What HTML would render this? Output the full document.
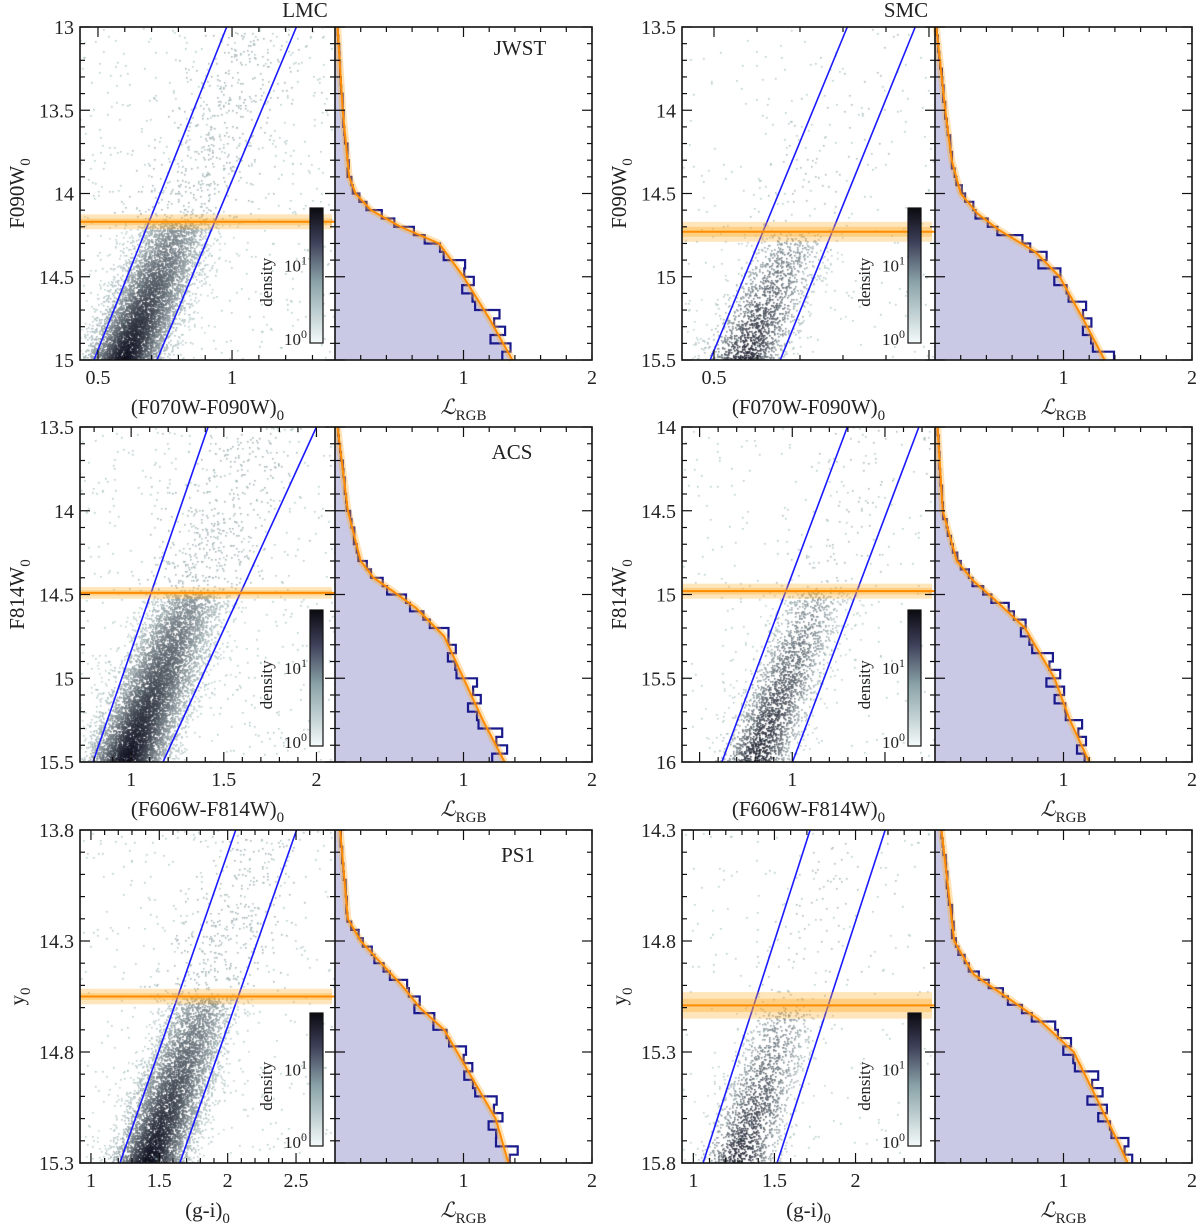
<!DOCTYPE html>
<html><head><meta charset="utf-8">
<style>
html,body{margin:0;padding:0;background:#fff;}
#wrap{position:relative;width:1200px;height:1226px;overflow:hidden;}
canvas,svg{position:absolute;left:0;top:0;}
text{font-family:"Liberation Serif",serif;fill:#222;}
</style></head>
<body>
<div id="wrap">
<canvas id="cv" width="1200" height="1226"></canvas>
<svg id="sv" width="1200" height="1226" xmlns="http://www.w3.org/2000/svg"></svg>
</div>
<script>
// ---- data (top level) ----
const panelIds = ['lmc-jwst','smc-jwst','lmc-acs','smc-acs','lmc-ps1','smc-ps1'];
const trgbMags = [14.17, 14.73, 14.49, 14.98, 14.55, 15.09];
const trgbErrOuter = [0.045, 0.06, 0.035, 0.045, 0.035, 0.06];
const trgbErrInner = [0.02, 0.03, 0.015, 0.02, 0.015, 0.03];
// selection box lines: colour at bright (top) and faint (bottom) mag limits
const boxLeftTop = [0.98, 0.81, 1.415, 1.297, 2.059, 1.72];
const boxLeftBot = [0.485, 0.491, 0.794, 0.62, 1.212, 1.06];
const boxRightTop = [1.24, 0.968, 2.0, 1.683, 2.504, 2.183];
const boxRightBot = [0.72, 0.654, 1.172, 1.001, 1.65, 1.516];
// luminosity function (mag, L_RGB)
const lfMag0 = [13.0,13.5,13.9,14.0,14.1,14.2,14.3,14.5,14.75,15.0];
const lfVal0 = [0.02,0.06,0.11,0.16,0.28,0.51,0.81,1.0,1.2,1.38];
const lfMag1 = [13.5,14.0,14.3,14.5,14.62,14.72,14.85,15.0,15.25,15.5];
const lfVal1 = [0.01,0.08,0.13,0.2,0.33,0.5,0.78,0.97,1.15,1.32];
const lfMag2 = [13.5,14.0,14.3,14.4,14.48,14.58,14.75,15.0,15.25,15.5];
const lfVal2 = [0.02,0.1,0.2,0.3,0.45,0.63,0.85,1.0,1.15,1.32];
const lfMag3 = [14.0,14.5,14.8,14.92,15.02,15.2,15.5,15.75,16.0];
const lfVal3 = [0.02,0.06,0.17,0.3,0.45,0.7,0.93,1.05,1.2];
const lfMag4 = [13.8,14.2,14.3,14.4,14.5,14.6,14.7,14.9,15.1,15.3];
const lfVal4 = [0.04,0.1,0.2,0.36,0.52,0.66,0.85,1.05,1.25,1.35];
const lfMag5 = [14.3,14.8,14.95,15.05,15.15,15.3,15.5,15.7,15.8];
const lfVal5 = [0.05,0.15,0.3,0.55,0.8,1.08,1.25,1.42,1.5];
const lfMags = [lfMag0,lfMag1,lfMag2,lfMag3,lfMag4,lfMag5];
const lfVals = [lfVal0,lfVal1,lfVal2,lfVal3,lfVal4,lfVal5];
// histogram scatter around the model (per-bin offsets)
const histJitter = [0,0.02,-0.02,0.03,-0.03,0.02,0.04,-0.02,0.05,-0.04,0.06,-0.05,0.07,-0.06,0.08,-0.05,0.09,-0.07,0.1,-0.08];
const colTicks0 = ['0.5','1'];
const colTicks1 = ['0.5'];
const colTicks2 = ['1','1.5','2'];
const colTicks3 = ['1'];
const colTicks4 = ['1','1.5','2','2.5'];
const colTicks5 = ['1','1.5','2'];
const colTickLabels = [colTicks0,colTicks1,colTicks2,colTicks3,colTicks4,colTicks5];
const magTicks0 = ['13','13.5','14','14.5','15'];
const magTicks1 = ['13.5','14','14.5','15','15.5'];
const magTicks2 = ['13.5','14','14.5','15','15.5'];
const magTicks3 = ['14','14.5','15','15.5','16'];
const magTicks4 = ['13.8','14.3','14.8','15.3'];
const magTicks5 = ['14.3','14.8','15.3','15.8'];
const magTickLabels = [magTicks0,magTicks1,magTicks2,magTicks3,magTicks4,magTicks5];
const lfTicks = ['1','2'];

// ---- layout ----
const L = [
 {x0:80,xm:335,x1:592,y0:27,y1:360,c:[0.433,1.384],m:[13,15],cmin:0.1,mmin:0.1,yl:'F090W',xl:'(F070W-F090W)',cb:[310,208,343],N:22000,sig:0.075,up:0.05,nf:500},
 {x0:682,xm:935,x1:1192,y0:27,y1:360,c:[0.4256,1.014],m:[13.5,15.5],cmin:0.1,mmin:0.1,yl:'F090W',xl:'(F070W-F090W)',cb:[908,208,343],N:6000,sig:0.05,up:0.03,nf:250},
 {x0:80,xm:335,x1:592,y0:427,y1:762,c:[0.724,2.1],m:[13.5,15.5],cmin:0.1,mmin:0.1,yl:'F814W',xl:'(F606W-F814W)',cb:[310,610,746],N:22000,sig:0.11,up:0.05,nf:500},
 {x0:682,xm:935,x1:1192,y0:427,y1:762,c:[0.405,1.77],m:[14,16],cmin:0.1,mmin:0.1,yl:'F814W',xl:'(F606W-F814W)',cb:[908,610,746],N:7000,sig:0.1,up:0.035,nf:250},
 {x0:80,xm:335,x1:592,y0:830,y1:1163,c:[0.92,2.785],m:[13.8,15.3],cmin:0.1,mmin:0.1,yl:'y',xl:'(g-i)',cb:[310,1013,1146],N:18000,sig:0.14,up:0.05,nf:400},
 {x0:682,xm:935,x1:1192,y0:830,y1:1163,c:[0.93,2.49],m:[14.3,15.8],cmin:0.1,mmin:0.1,yl:'y',xl:'(g-i)',cb:[908,1013,1146],N:5000,sig:0.12,up:0.04,nf:200}
];
const NS='http://www.w3.org/2000/svg';
const sv=document.getElementById('sv');
const ctx=document.getElementById('cv').getContext('2d');
function mk(tag,attrs,parent){const e=document.createElementNS(NS,tag);for(const k in attrs)e.setAttribute(k,attrs[k]);(parent||sv).appendChild(e);return e;}
function rng(seed){return function(){seed|=0;seed=seed+0x6D2B79F5|0;let t=Math.imul(seed^seed>>>15,1|seed);t=t+Math.imul(t^t>>>7,61|t)^t;return((t^t>>>14)>>>0)/4294967296;};}
function interp(xs,ys,x){if(x<=xs[0])return ys[0];for(let i=1;i<xs.length;i++){if(x<=xs[i]){const f=(x-xs[i-1])/(xs[i]-xs[i-1]);return ys[i-1]+f*(ys[i]-ys[i-1]);}}return ys[ys.length-1];}

const defs=mk('defs',{});
const g=mk('linearGradient',{id:'cbg',x1:0,y1:1,x2:0,y2:0},defs);
mk('stop',{offset:'0','stop-color':'#f4fafa'},g);
mk('stop',{offset:'0.45','stop-color':'#8aa3a8'},g);
mk('stop',{offset:'0.75','stop-color':'#3d3f58'},g);
mk('stop',{offset:'1','stop-color':'#0a0a10'},g);

L.forEach((p,i)=>{
  const sx=c=>p.x0+(c-p.c[0])/(p.c[1]-p.c[0])*(p.xm-p.x0);
  const sy=m=>p.y0+(m-p.m[0])/(p.m[1]-p.m[0])*(p.y1-p.y0);
  const lx=v=>p.xm+v/2*(p.x1-p.xm);
  const grp=mk('g',{});
  
  
  const trgb=trgbMags[i];
  const lineC=(top,bot,m)=>top+(bot-top)*(m-p.m[0])/(p.m[1]-p.m[0]);
  const r=rng(1234+i*77);
  ctx.save();ctx.beginPath();ctx.rect(p.x0,p.y0,p.xm-p.x0,p.y1-p.y0);ctx.clip();
  const gauss=()=>{let u=r()||1e-9,v=r();return Math.sqrt(-2*Math.log(u))*Math.cos(2*Math.PI*v);};
  for(let k=0;k<p.N;k++){
    const m=p.m[0]+r()*(p.m[1]-p.m[0]);
    const w=m>trgb?0.3+0.7*(m-trgb)/(p.m[1]-trgb):p.up*(1-0.6*(trgb-m)/(trgb-p.m[0]));
    if(r()>w)continue;
    const lc=lineC(boxLeftTop[i],boxLeftBot[i],m), rc=lineC(boxRightTop[i],boxRightBot[i],m);
    const cen=lc+0.45*(rc-lc);
    const off=gauss()*p.sig*(m>trgb?1:1.4);
    let t=w*Math.exp(-off*off/(2*p.sig*p.sig));
    if(m<trgb)t=0.15;
    t=Math.max(0,Math.min(1,t*(p.N>10000?1.0:0.9)));
    const R=Math.round(195-180*t),G=Math.round(212-196*t),B=Math.round(212-180*t);
    ctx.fillStyle='rgb('+R+','+G+','+B+')';
    ctx.fillRect(Math.round(sx(cen+off)),Math.round(sy(m)),1.6,1.6);
  }
  for(let k=0;k<p.nf;k++){
    const m=p.m[0]+r()*(p.m[1]-p.m[0]);const c=p.c[0]+r()*(p.c[1]-p.c[0]);
    ctx.fillStyle='rgba(150,180,180,0.7)';ctx.fillRect(Math.round(sx(c)),Math.round(sy(m)),1.6,1.6);
  }
  ctx.restore();
  const ms=lfMags[i],vs=lfVals[i];
  let d='M'+p.xm+','+p.y0;
  const pts=[];
  for(let y=p.y0;y<=p.y1;y+=1){const m=p.m[0]+(y-p.y0)/(p.y1-p.y0)*(p.m[1]-p.m[0]);pts.push([lx(interp(ms,vs,m)),y]);}
  pts.forEach(q=>d+=' L'+q[0].toFixed(1)+','+q[1]);
  d+=' L'+p.xm+','+p.y1+' Z';
  const fill=mk('path',{d:d,fill:'#c9c9e5',stroke:'none'},grp);
  
  
  const nb=40;let hd='';
  for(let b=0;b<nb;b++){
    const m0=p.m[0]+b/nb*(p.m[1]-p.m[0]),m1=p.m[0]+(b+1)/nb*(p.m[1]-p.m[0]);
    const base=interp(ms,vs,(m0+m1)/2);
    const v=Math.max(0,base+histJitter[(b*7+i*3)%histJitter.length]*Math.min(1,base));
    const X=lx(v).toFixed(1);
    hd+=(b===0?'M'+X+','+sy(m0):' L'+X+','+sy(m0).toFixed(1))+' L'+X+','+sy(m1).toFixed(1);
  }
  const hist=mk('path',{d:hd,fill:'none',stroke:'#1a1a8c','stroke-width':2.2},grp);
  
  
  let od='';pts.forEach((q,j)=>od+=(j?' L':'M')+q[0].toFixed(1)+','+q[1]);
  mk('path',{d:od,fill:'none',stroke:'rgba(255,170,40,0.35)','stroke-width':7},grp);
  const ol=mk('path',{d:od,fill:'none',stroke:'#ff8c00','stroke-width':2},grp);
  
  
  [[boxLeftTop[i],boxLeftBot[i]],[boxRightTop[i],boxRightBot[i]]].forEach((bl,j)=>{
    const e=mk('line',{x1:sx(bl[1]),y1:p.y1,x2:sx(bl[0]),y2:p.y0,stroke:'#1a1aff','stroke-width':1.6},grp);
    
    
  });
  const ty=sy(trgb);
  const hO=sy(trgb+trgbErrOuter[i])-ty,hI=sy(trgb+trgbErrInner[i])-ty;
  mk('rect',{x:p.x0,y:ty-hO,width:p.xm-p.x0-3,height:2*hO,fill:'rgba(255,170,30,0.3)'},grp);
  mk('rect',{x:p.x0,y:ty-hI,width:p.xm-p.x0-3,height:2*hI,fill:'rgba(255,170,30,0.35)'},grp);
  const tl=mk('line',{x1:p.x0,y1:ty,x2:p.xm,y2:ty,stroke:'#ff8c00','stroke-width':2},grp);
  
  
  const cb=mk('rect',{x:p.cb[0],y:p.cb[1],width:13,height:p.cb[2]-p.cb[1],fill:'url(#cbg)',stroke:'#111','stroke-width':1.2},grp);
  
  
  const cbh=p.cb[2]-p.cb[1];
  const t1=mk('text',{x:p.cb[0]-3,y:p.cb[1]+cbh*0.47,'font-size':17,'text-anchor':'end'},grp);t1.innerHTML='10<tspan dy="-7" font-size="12">1</tspan>';
  const t0=mk('text',{x:p.cb[0]-3,y:p.cb[2]+2,'font-size':17,'text-anchor':'end'},grp);t0.innerHTML='10<tspan dy="-7" font-size="12">0</tspan>';
  const dn=mk('text',{x:0,y:0,'font-size':17,'text-anchor':'middle',transform:'translate('+(p.cb[0]-38)+','+(p.cb[1]+cbh*0.55)+') rotate(-90)'},grp);dn.textContent='density';
  
  
  mk('rect',{x:p.x0,y:p.y0,width:p.x1-p.x0,height:p.y1-p.y0,fill:'none',stroke:'#111','stroke-width':1.6},grp);
  mk('line',{x1:p.xm,y1:p.y0,x2:p.xm,y2:p.y1,stroke:'#111','stroke-width':1.6},grp);
  const tk=(x1,y1,x2,y2)=>mk('line',{x1,y1,x2,y2,stroke:'#111','stroke-width':1.2},grp);
  const mstep=p.mmin;
  for(let m=Math.ceil(p.m[0]/mstep-1e-6)*mstep;m<=p.m[1]+1e-6;m+=mstep){
    const y=sy(m);const maj=magTickLabels[i].some(s=>Math.abs(parseFloat(s)-m)<1e-6);const len=maj?10:5;
    tk(p.x0,y,p.x0+len,y);tk(p.xm-len,y,p.xm+len,y);tk(p.x1-len,y,p.x1,y);
  }
  magTickLabels[i].forEach(s=>{const e=mk('text',{x:p.x0-6,y:sy(parseFloat(s))+7,'font-size':20,'text-anchor':'end'},grp);e.textContent=s;
    });
  for(let c=Math.ceil(p.c[0]/p.cmin)*p.cmin;c<=p.c[1];c+=p.cmin){
    const x=sx(c);const maj=Math.abs(c*2-Math.round(c*2))<1e-6;const len=maj?10:5;
    tk(x,p.y1,x,p.y1-len);tk(x,p.y0,x,p.y0+len);
  }
  colTickLabels[i].forEach(s=>{const e=mk('text',{x:sx(parseFloat(s)),y:p.y1+24,'font-size':20,'text-anchor':'middle'},grp);e.textContent=s;
    });
  for(let v=0.2;v<2;v+=0.2){const x=lx(v);const maj=Math.abs(v-1)<1e-6;const len=maj?10:5;tk(x,p.y1,x,p.y1-len);tk(x,p.y0,x,p.y0+len);}
  lfTicks.forEach(s=>{const e=mk('text',{x:lx(parseFloat(s)),y:p.y1+24,'font-size':20,'text-anchor':'middle'},grp);e.textContent=s;
    });
  const xt=mk('text',{x:(p.x0+p.xm)/2,y:p.y1+54,'font-size':21,'text-anchor':'middle'},grp);
  xt.innerHTML=p.xl+'<tspan dy="6" font-size="15">0</tspan>';
  
  const lt=mk('text',{x:lx(1),y:p.y1+54,'font-size':21,'text-anchor':'middle'},grp);
  lt.innerHTML='<tspan font-style="italic">ℒ</tspan><tspan dy="6" font-size="15">RGB</tspan>';
  
  const yt=mk('text',{x:0,y:0,'font-size':21,'text-anchor':'middle',transform:'translate('+(p.x0-56)+','+((p.y0+p.y1)/2)+') rotate(-90)'},grp);
  yt.innerHTML=p.yl+'<tspan dy="6" font-size="15">0</tspan>';
  
});
const titles=[['LMC',305,17,'lmc-title'],['SMC',906,17,'smc-title'],['JWST',520,55,'jwst-label'],['ACS',512,459,'acs-label'],['PS1',518,862,'ps1-label']];
titles.forEach(t=>{const e=mk('text',{x:t[1],y:t[2],'font-size':21,'text-anchor':'middle'});e.textContent=t[0];
  });
</script>
</body></html>
